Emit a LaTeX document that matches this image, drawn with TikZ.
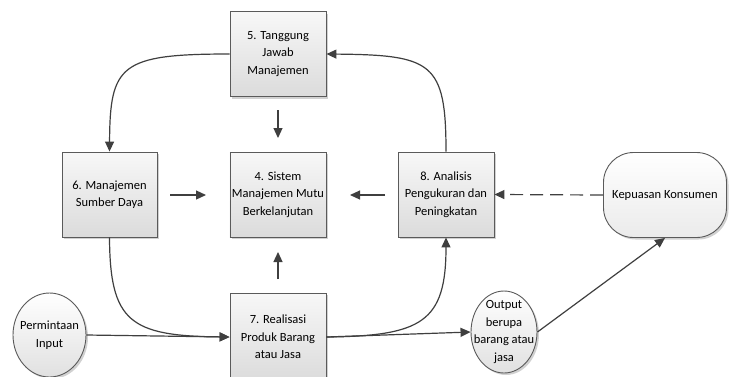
\documentclass[tikz,border=0pt]{standalone}
\usepackage{fontspec}
\setmainfont{Carlito}
\usetikzlibrary{arrows.meta,shapes.geometric,shadows}
\definecolor{linec}{HTML}{3F3F3F}
\definecolor{borderc}{HTML}{5A5A5A}
\tikzset{
  txt/.style={align=center, font=\fontsize{12.5}{17.5}\selectfont},
  base/.style={draw=borderc, line width=0.9pt, txt, inner sep=2pt,
    drop shadow={shadow xshift=2pt, shadow yshift=-2pt, fill=black, opacity=0.18}},
  procbox/.style={base, rectangle, minimum width=96pt, minimum height=85pt, top color=white!97!black, bottom color=white!86!black},
  ovalnode/.style={base, ellipse, inner sep=0pt, top color=white, bottom color=white!88!black},
  termnode/.style={base, rectangle, rounded corners=30pt, minimum width=123pt, minimum height=85pt, top color=white, bottom color=white!92!black},
  conn/.style={draw=linec, line width=1.2pt, -{Triangle[length=10pt,width=9pt]}},
  dashconn/.style={conn, dash pattern=on 13pt off 7pt}
}
\begin{document}
\begin{tikzpicture}[x=1pt,y=-1pt]
\useasboundingbox (0,0) rectangle (736,376);
\clip (0,0) rectangle (736,376);
\fill[white] (0,0) rectangle (736,376);

\node[procbox] (b5) at (278,54) {5. Tanggung\\Jawab\\Manajemen};
\node[procbox] (b4) at (278,194.5) {4. Sistem\\Manajemen Mutu\\Berkelanjutan};
\node[procbox, minimum width=95pt] (b6) at (109.5,194.5) {6. Manajemen\\Sumber Daya};
\node[procbox] (b8) at (446,194.5) {8. Analisis\\Pengukuran dan\\Peningkatan};
\node[procbox, minimum height=88pt] (b7) at (278,337) {7. Realisasi\\Produk Barang\\atau Jasa};
\node[termnode] (kep) at (665,195) {Kepuasan Konsumen};
\node[ovalnode, minimum width=73pt, minimum height=84pt,
  label={[txt]center:Permintaan\\Input}] (perm) at (49.5,335) {};
\node[ovalnode, minimum width=66pt, minimum height=82pt,
  label={[txt]center:Output\\berupa\\barang atau\\jasa}] (out) at (504,332) {};

% curved connectors
\draw[conn] (b5.west) .. controls (120,54) and (110,65) .. (b6.north);
\draw[conn] (b8.north) .. controls (446,62) and (432,55) .. (b5.east);
\draw[conn] (b6.south) .. controls (110,322) and (130,336) .. (b7.west);
\draw[conn] (b7.east) .. controls (422,336) and (446,322) .. (b8.south);

% straight connectors
\draw[conn] (perm.east) -- (b7.west);
\draw[conn] (b7.east) -- (out.west);
\draw[conn] (out.east) -- (kep.south);
\draw[dashconn] (kep.west) -- (b8.east);

% free arrows toward the centre box
\coordinate (a1s) at (278,110);
\coordinate (a1e) at (278,138);
\draw[conn] (a1s) -- (a1e);
\coordinate (a2s) at (170,195);
\coordinate (a2e) at (206,195);
\draw[conn] (a2s) -- (a2e);
\coordinate (a3s) at (385,195);
\coordinate (a3e) at (350,195);
\draw[conn] (a3s) -- (a3e);
\coordinate (a4s) at (278,279);
\coordinate (a4e) at (278,252);
\draw[conn] (a4s) -- (a4e);
\end{tikzpicture}
\end{document}
